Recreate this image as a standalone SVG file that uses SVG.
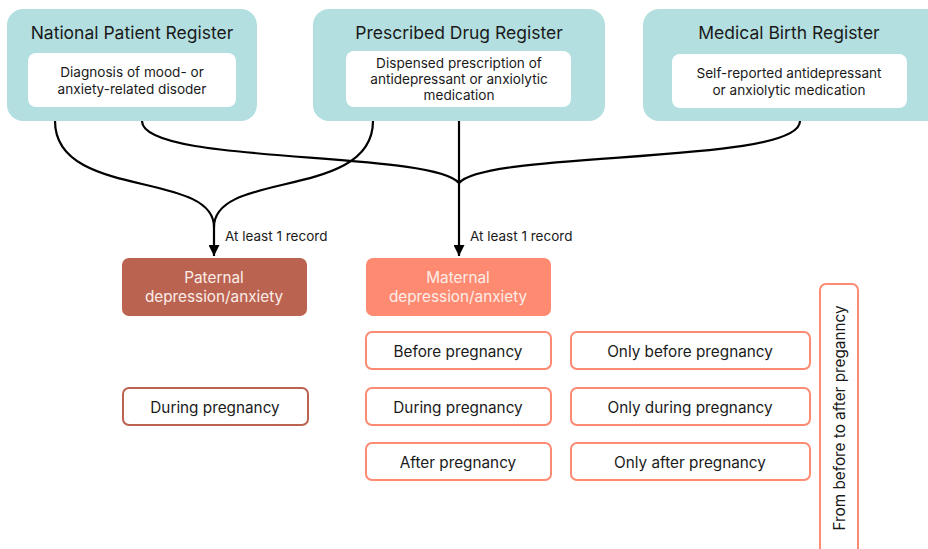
<svg xmlns="http://www.w3.org/2000/svg" width="928" height="549" viewBox="0 0 928 549">
<style>
.reg{fill:#B4DFE0}
.inner{fill:#FFFFFF}
.title{font-family:Inter,"Noto Sans","DejaVu Sans",sans-serif;font-size:17.5px;fill:#1a1a1a;text-anchor:middle}
.desc{font-family:Inter,"Noto Sans","DejaVu Sans",sans-serif;font-size:13.6px;fill:#1a1a1a;text-anchor:middle}
.lbl{font-family:Inter,"Noto Sans","DejaVu Sans",sans-serif;font-size:13.5px;fill:#1a1a1a}
.box{font-family:Inter,"Noto Sans","DejaVu Sans",sans-serif;font-size:15.3px;fill:#1a1a1a;text-anchor:middle}
.head{font-family:Inter,"Noto Sans","DejaVu Sans",sans-serif;font-size:15.3px;fill:#FCEDE8;text-anchor:middle}
.pat{fill:#BB6351}
.mat{fill:#FF8A72}
.patsub{fill:#FFFFFF;stroke:#BB6351;stroke-width:2}
.matsub{fill:#FFFFFF;stroke:#FF8A72;stroke-width:2}
.conn{fill:none;stroke:#000;stroke-width:2.2}
</style>
<defs>
<marker id="arr" viewBox="0 0 10 10" refX="10" refY="5" markerWidth="5.5" markerHeight="5" orient="auto" markerUnits="strokeWidth">
<path d="M0,0 L10,5 L0,10 Z" fill="#000"/>
</marker>
</defs>
<rect width="928" height="549" fill="#FFFFFF"/>

<g id="connectors">
<path class="conn" d="M55,121 C55,200 214,170 214,227"/>
<path class="conn" d="M373,121 C373,200 214,170 214,227 L214,256" marker-end="url(#arr)"/>
<path class="conn" d="M142,121 C142,165 430,150 459,183"/>
<path class="conn" d="M800,121 C800,165 488,150 459,183"/>
<path class="conn" d="M459,121 L459,256" marker-end="url(#arr)"/>
<text class="lbl" x="225" y="241">At least 1 record</text>
<text class="lbl" x="470" y="241">At least 1 record</text>
</g>

<g id="npr">
<rect class="reg" x="7" y="9" width="250" height="112" rx="16"/>
<text class="title" x="132" y="39">National Patient Register</text>
<rect class="inner" x="28" y="53" width="208" height="54" rx="8"/>
<text class="desc" x="132" y="77">Diagnosis of mood- or</text>
<text class="desc" x="132" y="94">anxiety-related disoder</text>
</g>

<g id="pdr">
<rect class="reg" x="313" y="9" width="292" height="112" rx="16"/>
<text class="title" x="459" y="39">Prescribed Drug Register</text>
<rect class="inner" x="346" y="51" width="225" height="56" rx="8"/>
<text class="desc" x="459" y="68">Dispensed prescription of</text>
<text class="desc" x="459" y="84">antidepressant or anxiolytic</text>
<text class="desc" x="459" y="100">medication</text>
</g>

<g id="mbr">
<rect class="reg" x="643" y="9" width="300" height="112" rx="16"/>
<text class="title" x="789" y="39">Medical Birth Register</text>
<rect class="inner" x="672" y="54" width="235" height="54" rx="8"/>
<text class="desc" x="789" y="78">Self-reported antidepressant</text>
<text class="desc" x="789" y="95">or anxiolytic medication</text>
</g>

<g id="paternal">
<rect class="pat" x="122" y="258" width="185" height="58" rx="7"/>
<text class="head" x="214" y="283">Paternal</text>
<text class="head" x="214" y="302">depression/anxiety</text>
</g>

<g id="maternal">
<rect class="mat" x="366" y="258" width="185" height="58" rx="7"/>
<text class="head" x="458" y="283">Maternal</text>
<text class="head" x="458" y="302">depression/anxiety</text>
</g>

<g id="pat-during">
<rect class="patsub" x="123" y="388" width="185" height="37" rx="6"/>
<text class="box" x="215" y="413">During pregnancy</text>
</g>

<g id="mat-before">
<rect class="matsub" x="366" y="332" width="185" height="37" rx="6"/>
<text class="box" x="458" y="357">Before pregnancy</text>
</g>
<g id="mat-during">
<rect class="matsub" x="366" y="388" width="185" height="37" rx="6"/>
<text class="box" x="458" y="413">During pregnancy</text>
</g>
<g id="mat-after">
<rect class="matsub" x="366" y="443" width="185" height="37" rx="6"/>
<text class="box" x="458" y="468">After pregnancy</text>
</g>

<g id="only-before">
<rect class="matsub" x="571" y="332" width="239" height="37" rx="6"/>
<text class="box" x="690" y="357">Only before pregnancy</text>
</g>
<g id="only-during">
<rect class="matsub" x="571" y="388" width="239" height="37" rx="6"/>
<text class="box" x="690" y="413">Only during pregnancy</text>
</g>
<g id="only-after">
<rect class="matsub" x="571" y="443" width="239" height="37" rx="6"/>
<text class="box" x="690" y="468">Only after pregnancy</text>
</g>

<g id="from-before-to-after">
<rect class="matsub" x="820" y="284" width="38" height="280" rx="6"/>
<text class="box" transform="translate(845,418) rotate(-90)" x="0" y="0">From before to after preganncy</text>
</g>
</svg>
